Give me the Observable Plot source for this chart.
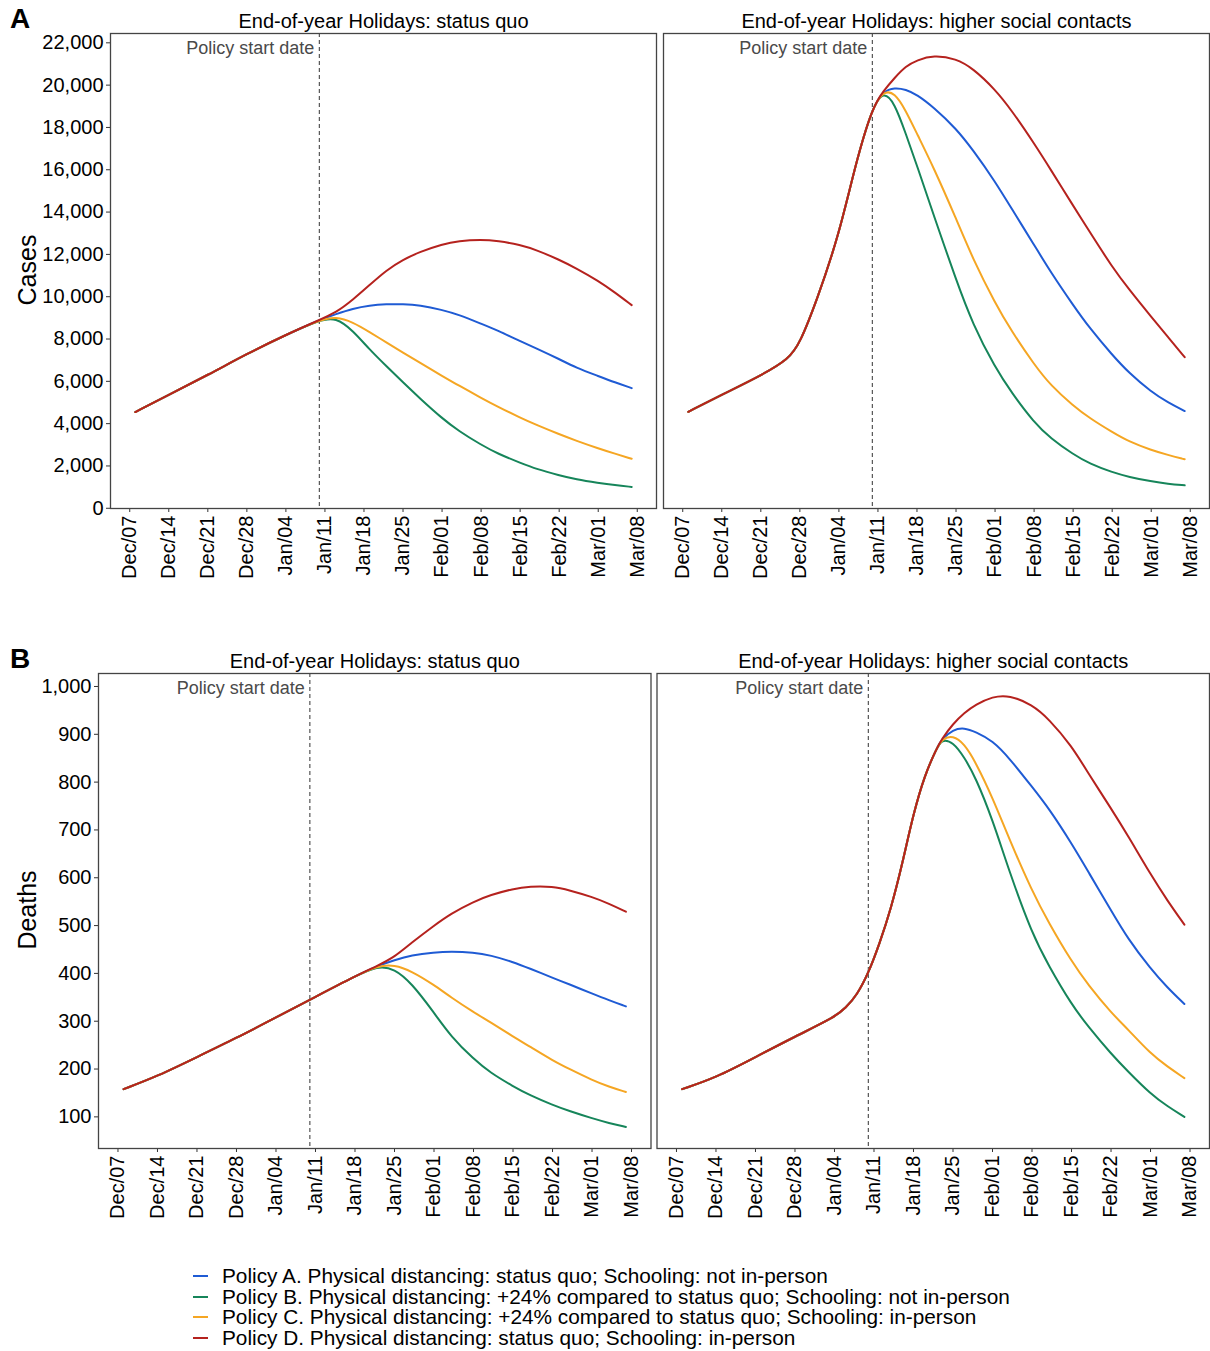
<!DOCTYPE html>
<html>
<head>
<meta charset="utf-8">
<script src="https://cdn.jsdelivr.net/npm/d3@7"></script>
<script src="https://cdn.jsdelivr.net/npm/@observablehq/plot@0.6"></script>
<style>
  body { margin: 0; background: #fff; font-family: "Liberation Sans", Arial, sans-serif; }
  #wrap { position: relative; width: 1210px; height: 1351px; background: #fff; }
  .row { position: absolute; left: 0; z-index: 1; }
  .tag { position: absolute; font-weight: bold; font-size: 28px; color: #000; z-index: 5; }
  .ylab { position: absolute; font-size: 25px; color: #000; transform: translate(-50%, -50%) rotate(-90deg); white-space: nowrap; z-index: 5; }
  #legend { position: absolute; left: 193px; top: 1266px; font-size: 20.8px; color: #000; z-index: 5; }
  #legend .item { display: flex; align-items: center; height: 20.6px; white-space: nowrap; }
  #legend svg { margin-right: 14px; }
</style>
</head>
<body>
<div id="wrap">
  <div class="row" id="rowA" style="top:0px;"></div>
  <div class="row" id="rowB" style="top:640px;"></div>
  <div class="tag" style="left:10px; top:3px;">A</div>
  <div class="tag" style="left:10px; top:643px;">B</div>
  <div class="ylab" style="left:27px; top:270px;">Cases</div>
  <div class="ylab" style="left:27px; top:910px;">Deaths</div>
  <div id="legend"></div>
</div>
<script>
// ---------- labels ----------
const panels = ["End-of-year Holidays: status quo", "End-of-year Holidays: higher social contacts"];
const policies = [
  "Policy A. Physical distancing: status quo; Schooling: not in-person",
  "Policy B. Physical distancing: +24% compared to status quo; Schooling: not in-person",
  "Policy C. Physical distancing: +24% compared to status quo; Schooling: in-person",
  "Policy D. Physical distancing: status quo; Schooling: in-person"
];
const policyColors = ["#1f5bd4", "#16855a", "#f5a623", "#b5221e"];
const policyStart = "2021-01-10";
const xTickDates = ["2020-12-07","2020-12-14","2020-12-21","2020-12-28","2021-01-04","2021-01-11","2021-01-18",
  "2021-01-25","2021-02-01","2021-02-08","2021-02-15","2021-02-22","2021-03-01","2021-03-08"];
const casesTicks = [0,2000,4000,6000,8000,10000,12000,14000,16000,18000,20000,22000];
const deathsTicks = [100,200,300,400,500,600,700,800,900,1000];

// ---------- Cases, status quo ----------
const casesSQPreDates = ["2020-12-08","2020-12-14","2020-12-21","2020-12-28","2021-01-04","2021-01-10"];
const casesSQPre = [4550,5370,6300,7300,8200,8900];
const casesSQPostDates = ["2021-01-10","2021-01-13","2021-01-16","2021-01-19","2021-01-22","2021-01-25","2021-01-28","2021-02-01","2021-02-04","2021-02-08","2021-02-11","2021-02-15","2021-02-18","2021-02-22","2021-02-25","2021-03-01","2021-03-04","2021-03-07"];
const casesSQ_A = [8900,9180,9440,9590,9650,9650,9600,9380,9150,8720,8400,7900,7550,7050,6650,6250,5950,5680];
const casesSQ_B = [8900,9020,8400,7500,6720,5950,5200,4250,3650,3000,2580,2150,1850,1560,1370,1200,1090,1010];
const casesSQ_C = [8900,9060,8800,8330,7840,7360,6880,6260,5800,5220,4800,4280,3930,3500,3200,2830,2580,2340];
const casesSQ_D = [8900,9250,9850,10550,11250,11750,12120,12480,12640,12700,12640,12450,12200,11750,11350,10750,10200,9600];

// ---------- Cases, higher social contacts ----------
const casesHiPreDates = ["2020-12-08","2020-12-14","2020-12-21","2020-12-26","2020-12-28","2020-12-31","2021-01-04","2021-01-07","2021-01-10","2021-01-12"];
const casesHiPre = [4560,5370,6270,7050,7800,9800,12900,16300,18950,19730];
const casesHiPostDates = ["2021-01-12","2021-01-14","2021-01-16","2021-01-18","2021-01-21","2021-01-25","2021-01-28","2021-02-01","2021-02-04","2021-02-08","2021-02-11","2021-02-15","2021-02-18","2021-02-22","2021-02-25","2021-03-01","2021-03-04","2021-03-07"];
const casesHi_A = [19730,19880,19800,19550,18950,17950,16950,15450,14150,12450,11150,9600,8500,7250,6400,5500,5000,4595];
const casesHi_B = [19730,19150,17700,16200,13850,10800,8700,6650,5450,4050,3300,2550,2100,1700,1480,1270,1150,1086];
const casesHi_C = [19730,19650,18800,17700,16100,13700,11800,9700,8350,6800,5800,4850,4250,3600,3150,2750,2520,2313];
const casesHi_D = [19730,20350,20900,21180,21420,21250,20800,19800,18800,17250,16000,14300,13050,11400,10350,9050,8100,7140];

// ---------- Deaths, status quo ----------
const deathsSQPreDates = ["2020-12-08","2020-12-14","2020-12-21","2020-12-28","2021-01-04","2021-01-11","2021-01-18","2021-01-22"];
const deathsSQPre = [158,185,225,265,308,351,394,416];
const deathsSQPostDates = ["2021-01-22","2021-01-25","2021-01-28","2021-02-01","2021-02-04","2021-02-08","2021-02-11","2021-02-15","2021-02-18","2021-02-22","2021-02-25","2021-03-01","2021-03-04","2021-03-07"];
const deathsSQ_A = [416,428,438,444,446,444,438,424,410,391,377,358,344,331];
const deathsSQ_B = [416,410,380,318,268,221,192,164,145,125,112,97,87,79];
const deathsSQ_C = [416,418,405,376,350,319,298,268,247,218,200,177,163,152];
const deathsSQ_D = [416,434,464,500,525,550,564,577,582,582,574,560,546,529];

// ---------- Deaths, higher social contacts ----------
const deathsHiPreDates = ["2020-12-08","2020-12-14","2020-12-21","2020-12-28","2021-01-04","2021-01-06","2021-01-08","2021-01-10","2021-01-12","2021-01-14","2021-01-16","2021-01-18","2021-01-20","2021-01-22","2021-01-23"];
const deathsHiPre = [158,182,225,268,308,328,355,400,463,535,628,735,815,868,890];
const deathsHiPostDates = ["2021-01-23","2021-01-25","2021-01-27","2021-01-29","2021-02-01","2021-02-04","2021-02-08","2021-02-11","2021-02-15","2021-02-18","2021-02-22","2021-02-25","2021-03-01","2021-03-04","2021-03-07"];
const deathsHi_A = [890,910,914,905,887,850,790,745,672,612,532,472,410,370,336];
const deathsHi_B = [890,884,852,810,722,612,483,415,335,288,232,195,148,122,100];
const deathsHi_C = [890,898,880,842,768,680,572,505,425,375,318,283,232,205,181];
const deathsHi_D = [890,922,945,962,979,982,962,932,876,818,745,688,607,552,502];

// ---------- build tables ----------
const parse = d3.utcParse("%Y-%m-%d");
function buildPanel(panel, preDates, pre, postDates, series) {
  const rows = [];
  const firstPost = postDates[0];
  series.forEach((vals, i) => {
    preDates.forEach((d, j) => { if (d < firstPost) rows.push({panel, policy: policies[i], date: parse(d), value: pre[j]}); });
    postDates.forEach((d, j) => rows.push({panel, policy: policies[i], date: parse(d), value: vals[j]}));
  });
  return rows;
}
const casesData = [
  ...buildPanel(panels[0], casesSQPreDates, casesSQPre, casesSQPostDates, [casesSQ_A, casesSQ_B, casesSQ_C, casesSQ_D]),
  ...buildPanel(panels[1], casesHiPreDates, casesHiPre, casesHiPostDates, [casesHi_A, casesHi_B, casesHi_C, casesHi_D])
];
const deathsData = [
  ...buildPanel(panels[0], deathsSQPreDates, deathsSQPre, deathsSQPostDates, [deathsSQ_A, deathsSQ_B, deathsSQ_C, deathsSQ_D]),
  ...buildPanel(panels[1], deathsHiPreDates, deathsHiPre, deathsHiPostDates, [deathsHi_A, deathsHi_B, deathsHi_C, deathsHi_D])
];
function expand(ext) { const r = ext[1] - ext[0]; return [ext[0] - 0.05 * r, ext[1] + 0.05 * r]; }

function makeRow(data, yTicks, marginLeft, gap) {
  const xExt = d3.extent(data, d => d.date);
  const xr = xExt[1] - xExt[0];
  const xDomain = [new Date(+xExt[0] - 0.05 * xr), new Date(+xExt[1] + 0.05 * xr)];
  const yDomain = expand(d3.extent(data, d => d.value));
  const W = 1210, mR = 1;
  const L = W - mR - marginLeft;
  const step = (L + gap) / 2;
  const ps = parse(policyStart);
  return Plot.plot({
    width: W, height: 600,
    marginTop: 33, marginBottom: 92, marginLeft, marginRight: mR,
    style: {fontFamily: "'Liberation Sans', Arial, sans-serif", background: "white", color: "#000", overflow: "visible"},
    fx: {domain: panels, paddingInner: gap / step, paddingOuter: 0, round: false, label: null, axis: null},
    x: {type: "utc", domain: xDomain, label: null, axis: null},
    y: {domain: yDomain, label: null, axis: null},
    color: {domain: policies, range: policyColors},
    marks: [
      Plot.axisFx({anchor: "top", label: null, tickSize: 0, tickPadding: 6, fontSize: 20}),
      Plot.axisY({ticks: yTicks, tickFormat: d3.format(","), tickSize: 4, tickPadding: 3, fontSize: 20, label: null, stroke: "#333"}),
      Plot.axisX({ticks: xTickDates.map(parse), tickFormat: d3.utcFormat("%b/%d"), tickRotate: -90, tickSize: 4, tickPadding: 3, fontSize: 20, label: null, stroke: "#333"}),
      Plot.ruleX([ps], {x: d => d, stroke: "#555", strokeDasharray: "4,3", strokeWidth: 1.2}),
      Plot.text([ps], {x: d => d, text: () => "Policy start date", frameAnchor: "top", dy: 8, dx: -5, textAnchor: "end", lineAnchor: "top", fill: "#4a4a4a", fontSize: 18}),
      Plot.line(data, {x: "date", y: "value", z: "policy", stroke: "policy", fx: "panel", strokeWidth: 2, curve: "basis"}),
      Plot.frame({stroke: "#444", strokeWidth: 1.3})
    ]
  });
}

document.getElementById("rowA").append(makeRow(casesData, casesTicks, 110, 7));
document.getElementById("rowB").append(makeRow(deathsData, deathsTicks, 98, 6));

// legend
const leg = document.getElementById("legend");
policies.forEach((p, i) => {
  const item = document.createElement("div");
  item.className = "item";
  item.innerHTML = `<svg width="15" height="4"><line x1="0" x2="15" y1="2" y2="2" stroke="${policyColors[i]}" stroke-width="2"/></svg><span></span>`;
  item.querySelector("span").textContent = p;
  leg.append(item);
});
</script>
</body>
</html>
